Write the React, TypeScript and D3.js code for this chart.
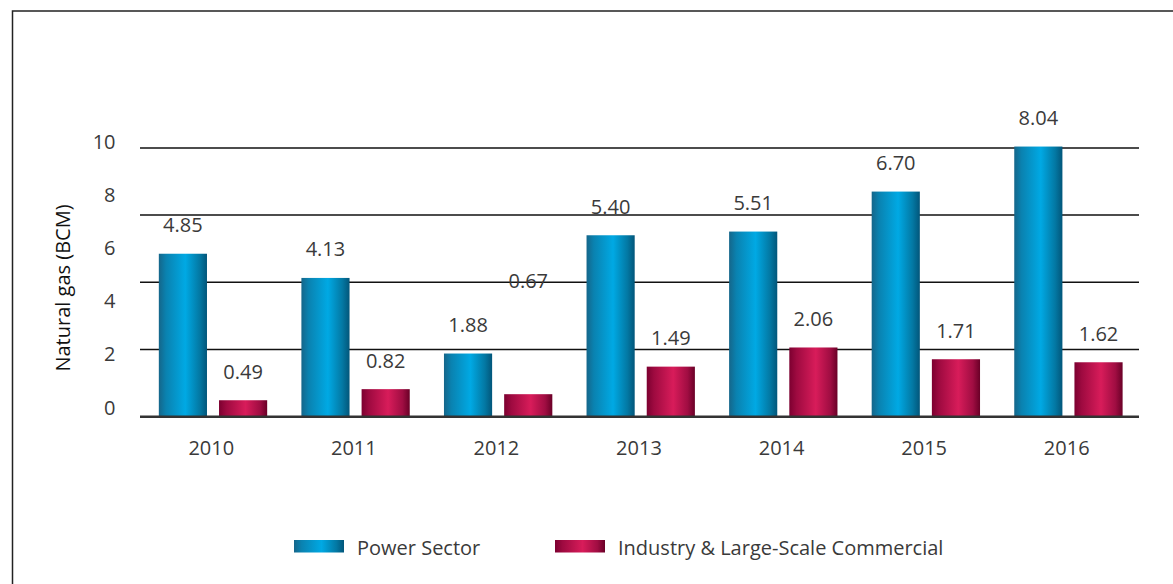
import React from "react";
import * as d3 from "d3";

const years = ["2010", "2011", "2012", "2013", "2014", "2015", "2016"];
const powerSector = [4.85, 4.13, 1.88, 5.4, 5.51, 6.7, 8.04];
const industry = [0.49, 0.82, 0.67, 1.49, 2.06, 1.71, 1.62];
const tickLabels = [0, 2, 4, 6, 8, 10];
const gridValues = [2, 4, 6, 8];
const seriesKeys = ["power", "industry"];
const seriesNames = ["Power Sector", "Industry & Large-Scale Commercial"];

const W = 1173;
const H = 584;
const FONT = "'Open Sans', 'Noto Sans', sans-serif";
const TEXT = "#3a3a3a";

export default function App() {
  const x0 = d3.scaleBand<string>().domain(years).range([141, 1139]).paddingInner(0).paddingOuter(0);
  const step = x0.step();
  const x1 = d3
    .scaleBand<string>()
    .domain(seriesKeys)
    .range([step * 0.125, step * 0.885])
    .paddingInner(0.2)
    .paddingOuter(0);
  const y = d3.scaleLinear().domain([0, 8]).range([416.7, 147.9]);
  const yTick = d3.scaleLinear().domain([0, 10]).range([407, 141.7]);

  const rows = years.map((yr, i) => ({
    year: yr,
    values: [
      { key: "power", v: powerSector[i] },
      { key: "industry", v: industry[i] },
    ],
  }));

  const gradId = (k: string) => (k === "power" ? "url(#gPower)" : "url(#gInd)");

  return (
    <svg
      width={W}
      height={H}
      style={{ position: "absolute", left: 0, top: 0, background: "#fff" }}
      fontFamily={FONT}
    >
      <defs>
        <linearGradient id="gPower" x1="0" x2="1" y1="0" y2="0">
          <stop offset="0%" stopColor="#15668a" />
          <stop offset="15%" stopColor="#0a82b0" />
          <stop offset="55%" stopColor="#00a9e4" />
          <stop offset="85%" stopColor="#0378a3" />
          <stop offset="100%" stopColor="#02567a" />
        </linearGradient>
        <linearGradient id="gInd" x1="0" x2="1" y1="0" y2="0">
          <stop offset="0%" stopColor="#7c0030" />
          <stop offset="15%" stopColor="#9e0a40" />
          <stop offset="55%" stopColor="#d81c5a" />
          <stop offset="85%" stopColor="#a00d42" />
          <stop offset="100%" stopColor="#6a0027" />
        </linearGradient>
      </defs>
      <rect x={12.5} y={11} width={W + 20} height={H + 20} fill="none" stroke="#222" strokeWidth={1.5} />

      {gridValues.map((g) => (
        <line key={g} x1={140} x2={1139} y1={y(g)} y2={y(g)} stroke="#111" strokeWidth={1.5} />
      ))}

      {tickLabels.map((t) => (
        <text key={t} x={115.5} y={yTick(t)} textAnchor="end" dominantBaseline="central" fontSize={20} fill={TEXT}>
          {t}
        </text>
      ))}

      <text
        transform={`translate(62,288) rotate(-90)`}
        textAnchor="middle"
        dominantBaseline="central"
        fontSize={20}
        fill="#111"
      >
        Natural gas (BCM)
      </text>

      {rows.map((r) => (
        <g key={r.year} transform={`translate(${x0(r.year)},0)`}>
          {r.values.map((d) => {
            const bx = x1(d.key)!;
            const bw = x1.bandwidth();
            const top = y(d.v);
            const misplaced = r.year === "2012" && d.key === "industry";
            const ly = misplaced ? y(4) - 2 : top - 29;
            return (
              <g key={d.key}>
                <rect x={bx} y={top} width={bw} height={y(0) - top} fill={gradId(d.key)} />
                <text x={bx + bw / 2} y={ly} textAnchor="middle" dominantBaseline="central" fontSize={20} fill={TEXT}>
                  {d.v.toFixed(2)}
                </text>
              </g>
            );
          })}
          <text x={step / 2 - 1} y={447} textAnchor="middle" dominantBaseline="central" fontSize={20} fill={TEXT}>
            {r.year}
          </text>
        </g>
      ))}

      <line x1={140} x2={1139} y1={y(0)} y2={y(0)} stroke="#333" strokeWidth={2.5} />

      {seriesKeys.map((k, i) => {
        const lx = i === 0 ? 294 : 555;
        return (
          <g key={k}>
            <rect x={lx} y={540} width={50} height={12.5} fill={gradId(k)} />
            <text x={lx + 63} y={547} dominantBaseline="central" fontSize={20} fill={TEXT}>
              {seriesNames[i]}
            </text>
          </g>
        );
      })}
    </svg>
  );
}
